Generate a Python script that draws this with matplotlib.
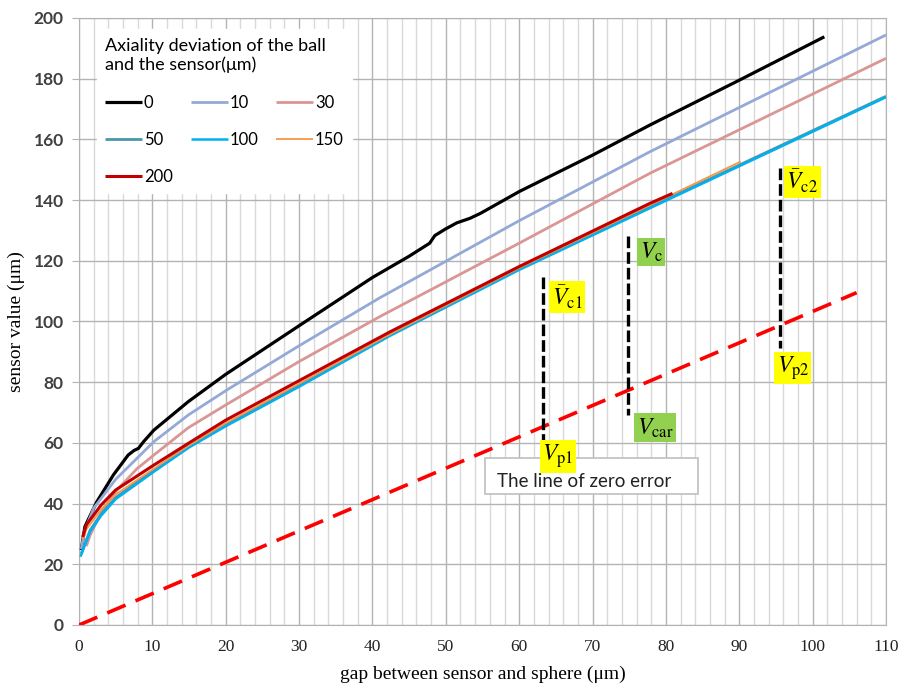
import matplotlib
matplotlib.use("Agg")
import matplotlib.pyplot as plt
from matplotlib.ticker import MultipleLocator
from matplotlib.patches import Rectangle

# ---------------- data ----------------
series_names = ["0", "10", "30", "50", "100", "150", "200"]

x_0 = [0.3, 0.8, 2.4, 4.7, 6.7, 7.5, 8.1, 8.8, 10.2, 12.4, 14.9, 20, 30, 40, 45, 47.8, 48.5, 49.9, 51.5, 53.3, 54.7, 60, 70, 77.8, 90, 101.6]
y_0 = [24.7, 32.4, 40.5, 49.5, 56.0, 57.5, 58.2, 60.4, 64.2, 68.6, 73.6, 82.6, 98.6, 114.5, 121.5, 125.8, 128.3, 130.4, 132.5, 134.0, 135.6, 142.8, 154.8, 164.7, 179.5, 193.8]

x_10 = [0.3, 0.8, 2, 5, 10.2, 14.9, 20, 30, 41, 60, 77.8, 90, 110]
y_10 = [25.0, 31.3, 38.5, 48.0, 60.4, 69.2, 77.2, 92.0, 107.8, 133.2, 155.9, 170.5, 194.4]

x_30 = [1.0, 1.5, 3, 5, 7.9, 10.2, 14.9, 20, 30, 41, 60, 77.8, 110]
y_30 = [26.0, 29.5, 37.0, 44.0, 51.5, 56.0, 65.0, 72.5, 86.8, 101.6, 125.8, 148.8, 186.7]

x_50 = [0.3, 1.5, 3, 5, 10.2, 15, 20, 30, 42.4, 60, 77.8, 110]
y_50 = [23.5, 31.2, 36.5, 42.0, 51.0, 59.5, 66.0, 79.0, 95.6, 117.4, 137.7, 174.2]

x_100 = [0.2, 1.5, 3, 5, 10.2, 15, 20, 30, 42.4, 60, 77.8, 110]
y_100 = [22.5, 30.7, 36.0, 41.5, 50.5, 58.5, 65.5, 78.5, 95.3, 117.0, 137.3, 173.9]

x_150 = [0.5, 1, 3, 5, 10.2, 15, 20, 30, 42.4, 60, 77.8, 90.2]
y_150 = [28.0, 31.5, 38.0, 43.0, 51.5, 59.2, 66.5, 79.5, 95.8, 117.6, 138.3, 152.7]

x_200 = [0.5, 1, 3, 5, 10.2, 15, 20, 30, 42.4, 60, 77.8, 80.9]
y_200 = [29.0, 33.0, 39.5, 44.5, 52.7, 60.0, 67.5, 80.5, 96.6, 118.1, 138.9, 142.2]

zero_err_x = [0, 106]
zero_err_y = [0, 109.5]

marker_x = [63.3, 74.9, 95.5]
marker_y_top = [114.8, 128.2, 150.5]
marker_y_bot = [58.8, 69.2, 91.2]

labels_text = [r"$\bar{V}_{\mathrm{c1}}$", r"$V_{\mathrm{c}}$", r"$\bar{V}_{\mathrm{c2}}$",
               r"$V_{\mathrm{p1}}$", r"$V_{\mathrm{car}}$", r"$V_{\mathrm{p2}}$"]
labels_x = [66.5, 78.0, 98.6, 65.3, 78.5, 97.3]
labels_y = [108.0, 122.9, 146.0, 55.6, 65.0, 84.7]
labels_color = ["#ffff00", "#92d050", "#ffff00", "#ffff00", "#92d050", "#ffff00"]

xs = [x_0, x_10, x_30, x_50, x_100, x_150, x_200]
ys = [y_0, y_10, y_30, y_50, y_100, y_150, y_200]
colors = ["#000000", "#93a9d6", "#d99694", "#4a97aa", "#00b0f0", "#f79646", "#c00000"]
widths = [2.3, 2.0, 2.0, 2.0, 1.8, 1.3, 2.2]

plt.rcParams["mathtext.fontset"] = "stix"

fig = plt.figure(figsize=(8.98, 6.89), dpi=100)
ax = fig.add_axes([0.088, 0.0929, 0.8986, 0.881])

handles = []
for x, y, c, w, n in zip(xs, ys, colors, widths, series_names):
    h, = ax.plot(x, y, color=c, lw=w, label=n, solid_capstyle="butt", zorder=3)
    handles.append(h)

ax.plot(zero_err_x, zero_err_y, color="#ff0000", lw=2.6, dashes=(5.5, 3), zorder=3)

for mx, yt, yb in zip(marker_x, marker_y_top, marker_y_bot):
    ax.plot([mx, mx], [yt, yb], color="black", lw=2.4, dashes=(3.5, 1.2), zorder=4)

ax.add_patch(Rectangle((55.3, 43.2), 29.1, 11.8, fc="white", ec="#bfbfbf", lw=1.2, zorder=4.4))
ax.text(57.0, 47.4, "The line of zero error", fontsize=13.5, family="Lato", color="#222222",
        ha="left", va="center", zorder=4.5)

for t, lx, ly, lc in zip(labels_text, labels_x, labels_y, labels_color):
    ax.text(lx, ly, t, fontsize=17, ha="center", va="center", zorder=6,
            bbox=dict(boxstyle="square,pad=0.1", fc=lc, ec="none"))

ax.set_xlim(0, 110)
ax.set_ylim(0, 200)
ax.xaxis.set_major_locator(MultipleLocator(10))
ax.xaxis.set_minor_locator(MultipleLocator(2))
ax.yaxis.set_major_locator(MultipleLocator(20))
ax.grid(which="major", axis="x", color="#b3b3b3", lw=1.0, zorder=0)
ax.grid(which="minor", axis="x", color="#d9d9d9", lw=1.0, zorder=0)
ax.grid(which="major", axis="y", color="#b3b3b3", lw=1.0, zorder=0)
ax.set_axisbelow(True)
for s in ax.spines.values():
    s.set_color("#b3b3b3")
ax.tick_params(axis="x", which="both", length=0, pad=10, labelsize=12.5, labelcolor="#222222")
ax.tick_params(axis="y", which="major", length=5, color="#b3b3b3", pad=6, labelsize=12.5, labelcolor="#404040")
for lab in ax.get_xticklabels():
    lab.set_family("Liberation Serif")
for lab in ax.get_yticklabels():
    lab.set_family("Lato")
    lab.set_fontweight("bold")

ax.set_xlabel("gap between sensor and sphere (μm)", family="Liberation Serif", fontsize=14, labelpad=8)
ax.set_ylabel("sensor value (μm)", family="Liberation Serif", fontsize=14, labelpad=6)

order = [0, 3, 6, 1, 4, 2, 5]
leg = ax.legend([handles[i] for i in order], [series_names[i] for i in order],
                ncol=3, loc="upper left", bbox_to_anchor=(0.012, 0.995),
                title="Axiality deviation of the ball\nand the sensor(μm)",
                alignment="left", frameon=True, fancybox=False, framealpha=1,
                edgecolor="white", facecolor="white",
                prop={"family": "Lato", "size": 12}, title_fontproperties={"family": "Lato", "size": 13},
                handlelength=2.2, handletextpad=0.1, columnspacing=1.1, labelspacing=1.25,
                borderpad=0.5)
leg._legend_box.sep = 16
leg.set_zorder(7)

fig.savefig("out.png", dpi=100)
